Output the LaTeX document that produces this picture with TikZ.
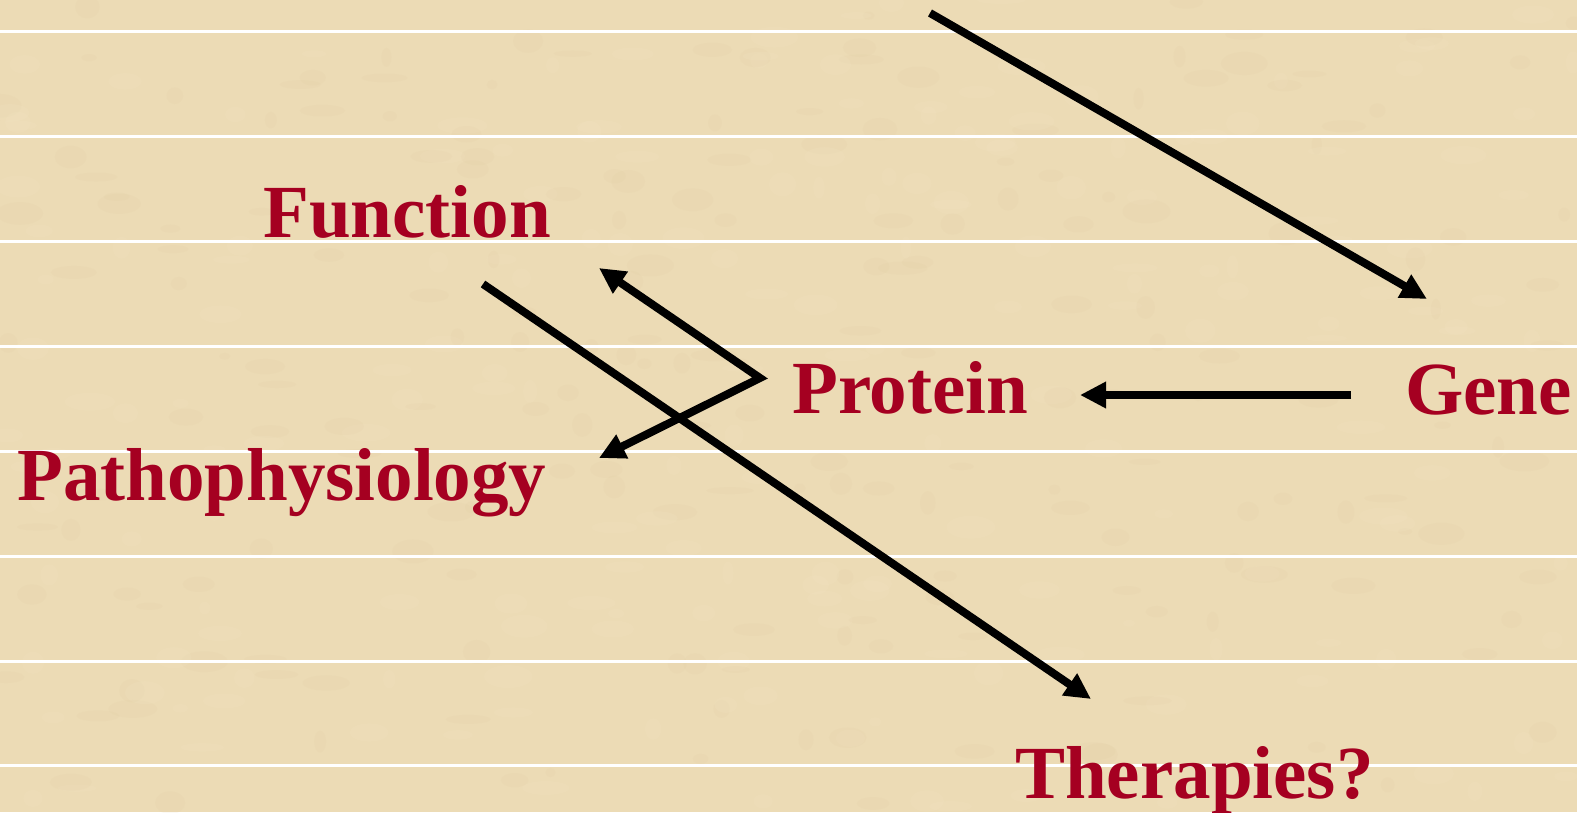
\documentclass[tikz,border=0pt]{standalone}
\usepackage{fontspec}
\setmainfont{Liberation Serif}
\usetikzlibrary{arrows.meta}
\definecolor{parch}{HTML}{ECDBB5}
\definecolor{parchdark}{HTML}{DCC79C}
\definecolor{parchlight}{HTML}{F5E8C8}
\definecolor{wine}{HTML}{A50021}
\tikzset{
  lbl/.style={anchor=base west, inner sep=0pt, text=wine, font=\fontsize{75}{90}\selectfont\bfseries},
  arr/.style={line width=8pt, -{Triangle[length=26pt,width=25pt]}, line join=miter},
  dbl/.style={line width=8pt, {Triangle[length=26pt,width=25pt]}-{Triangle[length=26pt,width=25pt]}, line join=miter, miter limit=10},
  rule/.style={white, line width=3pt}
}
\begin{document}
\begin{tikzpicture}[x=1pt,y=-1pt]
\fill[parch] (0,0) rectangle (1577,812);
\useasboundingbox (0,0) rectangle (1577,812);
% subtle parchment texture
\pgfmathsetseed{7}
\begin{scope}
\clip (0,0) rectangle (1577,812);
\foreach \i in {1,...,400}{
  \pgfmathsetmacro{\px}{rnd*1577}
  \pgfmathsetmacro{\py}{rnd*812}
  \pgfmathsetmacro{\rx}{5+rnd*20}
  \pgfmathsetmacro{\ry}{3+rnd*9}
  \pgfmathsetmacro{\c}{rnd}
  \ifdim\c pt<0.5pt
    \fill[parchdark, opacity=0.1] (\px,\py) ellipse [x radius=\rx, y radius=\ry];
  \else
    \fill[parchlight, opacity=0.15] (\px,\py) ellipse [x radius=\rx, y radius=\ry];
  \fi
}
\end{scope}
% white ruled lines
\foreach \y in {31,136,241,346,451,556,661,765}{
  \draw[rule] (0,\y) -- (1577,\y);
}
% text nodes
\node[lbl] (function) at (263,237) {Function};
\node[lbl] (protein) at (792,413) {Protein};
\node[lbl] (gene) at (1405,414) {Gene};
\node[lbl] (patho) at (17,500) {Pathophysiology};
\node[lbl] (thera) at (1015,798) {Therapies?};
% connector end points
\coordinate (topstart) at (930,13);
\coordinate (topend) at (1427,299);
\coordinate (gstart) at (1351,395);
\coordinate (gend) at (1080,395);
\coordinate (fork) at (760,378);
\coordinate (ftip) at (599,268);
\coordinate (ptip) at (599,458);
\coordinate (tstart) at (483,284);
\coordinate (tend) at (1091,699);
% connectors
\draw[arr] (topstart) -- (topend);
\draw[arr] (gstart) -- (gend);
\draw[dbl] (ftip) -- (fork) -- (ptip);
\draw[arr] (tstart) -- (tend);
\end{tikzpicture}
\end{document}
